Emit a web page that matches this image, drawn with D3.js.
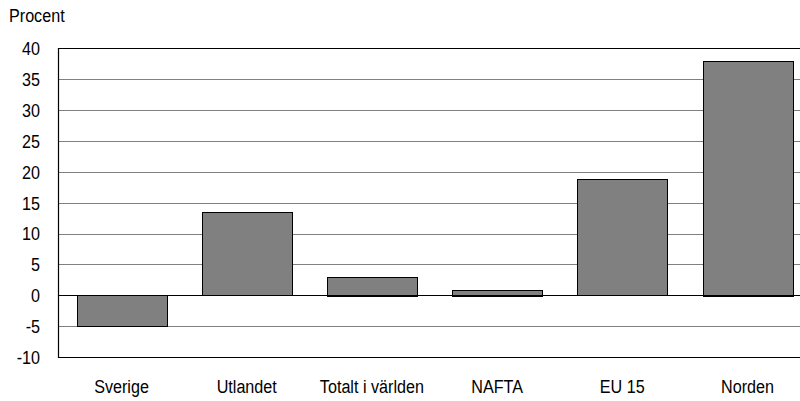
<!DOCTYPE html>
<html>
<head>
<meta charset="utf-8">
<script src="https://cdn.jsdelivr.net/npm/d3@7"></script>
<style>
  html, body { margin: 0; padding: 0; background: #fff; }
  svg { display: block; }
  text { font-family: "Liberation Sans", Arial, sans-serif; fill: #000; }
</style>
</head>
<body>
<div id="chart"></div>
<script>
const categories = ["Sverige", "Utlandet", "Totalt i världen", "NAFTA", "EU 15", "Norden"];
const values = [-5, 13.5, 3, 0.9, 18.8, 38];
const yTicks = [-10, -5, 0, 5, 10, 15, 20, 25, 30, 35, 40];
const yLabel = "Procent";

const W = 800, H = 401;
const mLeft = 58, mRight = 811, mTop = 48.3, mBottom = 357;
const FS = 19, SX = 0.85;

const svg = d3.select("#chart").append("svg").attr("width", W).attr("height", H);

const x = d3.scaleBand().domain(categories).range([mLeft, mRight]).paddingInner(0.283).paddingOuter(0.149);
const y = d3.scaleLinear().domain([-10, 40]).range([mBottom, mTop]);

// gridlines
svg.append("g").selectAll("line").data(yTicks.filter(t => t !== 0 && t !== -10))
  .join("line")
  .attr("x1", mLeft).attr("x2", W)
  .attr("y1", d => Math.round(y(d)) + 0.5).attr("y2", d => Math.round(y(d)) + 0.5)
  .attr("stroke", "#808080").attr("stroke-width", 1);

// bars
svg.append("g").selectAll("rect").data(categories)
  .join("rect")
  .attr("x", d => Math.round(x(d)) + 0.5)
  .attr("width", Math.round(x.bandwidth()))
  .attr("y", (d, i) => Math.round(y(Math.max(0, values[i]))) + 0.5)
  .attr("height", (d, i) => Math.round(Math.abs(y(values[i]) - y(0))))
  .attr("fill", "#808080").attr("stroke", "#000").attr("stroke-width", 1);

// zero line
svg.append("line").attr("x1", mLeft).attr("x2", W)
  .attr("y1", Math.round(y(0)) + 0.5).attr("y2", Math.round(y(0)) + 0.5)
  .attr("stroke", "#000").attr("stroke-width", 1);

// frame: top, left, bottom
const fT = Math.round(mTop) + 0.5, fB = Math.round(mBottom) + 0.5, fL = mLeft + 0.5;
svg.append("path")
  .attr("d", `M${W},${fT}H${fL}V${fB}H${W}`)
  .attr("fill", "none").attr("stroke", "#000").attr("stroke-width", 1.2);

// y axis labels
const yAxis = d3.axisLeft(y).tickValues(yTicks).tickSize(0).tickPadding(0).tickFormat(d => String(d));
const gy = svg.append("g").attr("transform", `translate(${mLeft},0)`).call(yAxis);
gy.select(".domain").remove();
gy.selectAll("text").attr("font-size", FS).attr("font-family", "Liberation Sans, Arial, sans-serif").attr("fill", "#000")
  .attr("x", -18 / SX).attr("dy", "0.34em").attr("transform", `scale(${SX},1)`);

// x axis labels
const xAxis = d3.axisBottom(x).tickSize(0).tickPadding(0);
const gx = svg.append("g").attr("transform", `translate(0,${mBottom})`).call(xAxis);
gx.select(".domain").remove();
gx.selectAll("text").attr("font-size", FS).attr("font-family", "Liberation Sans, Arial, sans-serif")
  .attr("fill", "#000").attr("dy", null).attr("y", 36).attr("transform", `scale(${SX},1)`);

// y label
svg.append("text").attr("transform", `translate(9,22) scale(${SX},1)`).attr("font-size", FS).text(yLabel);
</script>
</body>
</html>
